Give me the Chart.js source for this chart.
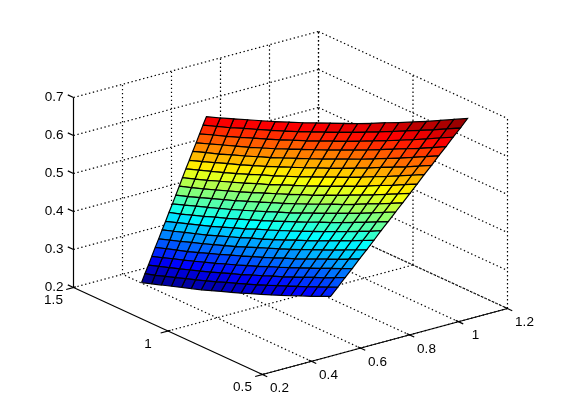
<!DOCTYPE html>
<html lang="en">
<head>
<meta charset="UTF-8">
<title>Surface plot</title>
<script src="https://cdn.jsdelivr.net/npm/chart.js"></script>
<style>
  html, body { margin: 0; padding: 0; background: #fff; }
  canvas { display: block; }
</style>
</head>
<body>
<canvas id="surface" width="561" height="420"></canvas>
<script>
// axis ticks
const xTicks = [0.2, 0.4, 0.6, 0.8, 1, 1.2];
const yTicks = [0.5, 1, 1.5];
const zTicks = [0.2, 0.3, 0.4, 0.5, 0.6, 0.7];
const xTickLabels = ['0.2', '0.4', '0.6', '0.8', '1', '1.2'];
const yTickLabels = ['0.5', '1', '1.5'];
const zTickLabels = ['0.2', '0.3', '0.4', '0.5', '0.6', '0.7'];

// surface nodes. y only changes per column
const yNodes = [1.240, 1.206, 1.173, 1.139, 1.105, 1.072, 1.038, 1.004, 0.971, 0.937, 0.903, 0.869, 0.836, 0.802, 0.768, 0.735, 0.701, 0.667, 0.634, 0.600];
const xNodes = [
  [.277,.292,.306,.321,.336,.350,.365,.379,.394,.409,.423,.438,.453,.467,.482,.496,.511,.526,.540,.555],
  [.291,.306,.322,.337,.353,.368,.384,.399,.415,.430,.445,.461,.476,.492,.507,.523,.538,.554,.569,.584],
  [.305,.321,.338,.354,.370,.386,.403,.419,.435,.451,.468,.484,.500,.516,.533,.549,.565,.581,.598,.614],
  [.319,.336,.353,.370,.387,.404,.421,.438,.455,.473,.490,.507,.524,.541,.558,.575,.592,.609,.626,.643],
  [.333,.351,.369,.386,.404,.422,.440,.458,.476,.494,.512,.530,.547,.565,.583,.601,.619,.637,.655,.673],
  [.347,.366,.384,.403,.422,.440,.459,.478,.496,.515,.534,.552,.571,.590,.609,.627,.646,.665,.683,.702],
  [.361,.380,.400,.419,.439,.458,.478,.497,.517,.536,.556,.575,.595,.614,.634,.653,.673,.692,.712,.732],
  [.375,.395,.415,.436,.456,.476,.497,.517,.537,.558,.578,.598,.619,.639,.659,.680,.700,.720,.741,.761],
  [.389,.410,.431,.452,.473,.494,.516,.537,.558,.579,.600,.621,.642,.664,.685,.706,.727,.748,.769,.790],
  [.403,.425,.447,.468,.490,.512,.534,.556,.578,.600,.622,.644,.666,.688,.710,.732,.754,.776,.798,.820],
  [.417,.439,.462,.485,.508,.530,.553,.576,.599,.621,.644,.667,.690,.713,.735,.758,.781,.804,.826,.849],
  [.431,.454,.478,.501,.525,.548,.572,.596,.619,.643,.666,.690,.714,.737,.761,.784,.808,.832,.855,.879],
  [.444,.469,.493,.518,.542,.566,.591,.615,.640,.664,.688,.713,.737,.762,.786,.810,.835,.859,.884,.908],
  [.458,.484,.509,.534,.559,.584,.610,.635,.660,.685,.711,.736,.761,.786,.811,.837,.862,.887,.912,.937],
  [.472,.498,.524,.550,.576,.602,.628,.654,.681,.707,.733,.759,.785,.811,.837,.863,.889,.915,.941,.967],
  [.486,.513,.540,.567,.594,.621,.647,.674,.701,.728,.755,.782,.808,.835,.862,.889,.916,.943,.970,.996],
  [.500,.528,.556,.583,.611,.638,.666,.694,.721,.749,.777,.804,.832,.860,.887,.915,.943,.970,.998,1.026],
  [.514,.543,.571,.600,.628,.657,.685,.713,.742,.770,.799,.827,.856,.884,.913,.941,.970,.998,1.027,1.055],
  [.528,.557,.587,.616,.645,.675,.704,.733,.762,.792,.821,.850,.880,.909,.938,.967,.997,1.026,1.055,1.085],
  [.542,.572,.602,.632,.662,.693,.723,.753,.783,.813,.843,.873,.903,.933,.963,.994,1.024,1.054,1.084,1.114]
];
const zNodes = [
  [.259,.261,.263,.265,.267,.269,.271,.274,.277,.280,.283,.287,.290,.294,.298,.302,.307,.311,.316,.321],
  [.280,.281,.283,.285,.287,.289,.291,.294,.297,.300,.303,.306,.310,.314,.318,.322,.326,.331,.335,.340],
  [.300,.302,.303,.305,.307,.309,.311,.314,.317,.319,.323,.326,.330,.333,.337,.341,.346,.350,.355,.360],
  [.321,.322,.324,.325,.327,.329,.331,.334,.336,.339,.342,.346,.349,.353,.357,.361,.365,.370,.374,.379],
  [.342,.343,.344,.345,.347,.349,.351,.354,.356,.359,.362,.365,.369,.372,.376,.380,.385,.389,.394,.399],
  [.362,.363,.364,.366,.367,.369,.371,.373,.376,.379,.382,.385,.388,.392,.396,.400,.404,.409,.413,.418],
  [.383,.384,.385,.386,.387,.389,.391,.393,.396,.398,.401,.404,.408,.411,.415,.419,.424,.428,.433,.438],
  [.403,.404,.405,.406,.407,.409,.411,.413,.416,.418,.421,.424,.427,.431,.435,.439,.443,.448,.452,.458],
  [.424,.424,.425,.426,.428,.429,.431,.433,.435,.438,.441,.444,.447,.451,.454,.458,.463,.467,.472,.477],
  [.444,.445,.446,.447,.448,.449,.451,.453,.455,.458,.460,.463,.467,.470,.474,.478,.482,.487,.492,.497],
  [.465,.465,.466,.467,.468,.469,.471,.473,.475,.477,.480,.483,.486,.490,.493,.497,.502,.506,.511,.516],
  [.486,.486,.486,.487,.488,.489,.491,.493,.495,.497,.500,.502,.506,.509,.513,.517,.521,.526,.531,.536],
  [.506,.506,.506,.507,.508,.509,.511,.512,.515,.517,.519,.522,.525,.529,.532,.536,.541,.545,.550,.555],
  [.527,.527,.527,.527,.528,.529,.531,.532,.534,.536,.539,.542,.545,.548,.552,.556,.560,.565,.570,.575],
  [.547,.547,.547,.548,.548,.549,.550,.552,.554,.556,.559,.561,.564,.568,.571,.576,.580,.584,.589,.594],
  [.568,.568,.567,.568,.568,.569,.570,.572,.574,.576,.578,.581,.584,.587,.591,.595,.599,.604,.609,.614],
  [.588,.588,.588,.588,.588,.589,.590,.592,.594,.596,.598,.601,.604,.607,.611,.615,.619,.623,.628,.633],
  [.609,.609,.608,.608,.609,.609,.610,.612,.613,.615,.618,.620,.623,.627,.630,.634,.638,.643,.648,.653],
  [.630,.629,.628,.629,.629,.629,.630,.631,.633,.635,.637,.640,.643,.646,.650,.654,.658,.662,.667,.672],
  [.650,.649,.649,.649,.649,.649,.650,.651,.653,.655,.657,.659,.662,.666,.669,.673,.677,.682,.687,.692]
];

// orthographic view of the 3d box onto the chart's flat x/y scales
function project(x, y, z) {
  return {
    x: 262 + 245 * (x - 0.2) - 189 * (y - 0.5),
    y: 374 - 66 * (x - 0.2) - 87 * (y - 0.5) - 380 * (z - 0.2)
  };
}

// matlab jet, 64 steps
function jet(t) {
  const k = Math.min(63, Math.max(0, Math.floor(t * 64)));
  const s = (k + 0.25) / 64;
  const c = v => Math.round(255 * Math.min(1, Math.max(0, v)));
  const r = c(Math.min(4 * s - 1.5, -4 * s + 4.5));
  const g = c(Math.min(4 * s - 0.5, -4 * s + 3.5));
  const b = c(Math.min(4 * s + 0.5, -4 * s + 2.5));
  return `rgb(${r},${g},${b})`;
}

const xMin = xTicks[0], xMax = xTicks[xTicks.length - 1];
const yMin = yTicks[0], yMax = yTicks[yTicks.length - 1];
const zMin = zTicks[0], zMax = zTicks[zTicks.length - 1];

const datasets = [];

function addLine(a, b, dotted) {
  datasets.push({
    data: [project(...a), project(...b)],
    showLine: true,
    borderColor: '#000',
    borderWidth: dotted ? 1.2 : 1.2,
    borderDash: dotted ? [1.4, 2.6] : [],
    pointRadius: 0,
    fill: false,
    order: dotted ? 3 : 1
  });
}

// dotted grid on floor and back walls
xTicks.forEach(x => {
  if (x !== xMin) addLine([x, yMin, zMin], [x, yMax, zMin], true);
  if (x !== xMin) addLine([x, yMax, zMin], [x, yMax, zMax], true);
});
yTicks.forEach(y => {
  if (y !== yMax) addLine([xMin, y, zMin], [xMax, y, zMin], true);
  addLine([xMax, y, zMin], [xMax, y, zMax], true);
});
zTicks.forEach(z => {
  addLine([xMin, yMax, z], [xMax, yMax, z], true);
  addLine([xMax, yMax, z], [xMax, yMin, z], true);
});

// solid axes
addLine([xMin, yMin, zMin], [xMax, yMin, zMin]);
addLine([xMin, yMin, zMin], [xMin, yMax, zMin]);
addLine([xMin, yMax, zMin], [xMin, yMax, zMax]);

// tick marks
xTicks.forEach(x => addLine([x, yMin - 0.025, zMin], [x, yMin + 0.015, zMin]));
yTicks.forEach(y => addLine([xMin - 0.03, y, zMin], [xMin + 0.01, y, zMin]));
zTicks.forEach(z => addLine([xMin, yMax, z], [xMin, yMax + 0.03, z]));

// surface cells
const zLow = zNodes[0][0];
const zHigh = zNodes[zNodes.length - 1][yNodes.length - 1];
for (let i = 0; i < zNodes.length - 1; i++) {
  for (let j = 0; j < yNodes.length - 1; j++) {
    const corners = [[i, j], [i, j + 1], [i + 1, j + 1], [i + 1, j], [i, j]];
    const zMean = (zNodes[i][j] + zNodes[i][j + 1] + zNodes[i + 1][j] + zNodes[i + 1][j + 1]) / 4;
    datasets.push({
      data: corners.map(([r, c]) => project(xNodes[r][c], yNodes[c], zNodes[r][c])),
      showLine: true,
      fill: 'shape',
      backgroundColor: jet((zMean - zLow) / (zHigh - zLow)),
      borderColor: '#000',
      borderWidth: 1.2,
      pointRadius: 0,
      order: 2
    });
  }
}

// tick labels, offsets in pixels from the tick
const tickText = {
  id: 'tickText',
  afterDatasetsDraw(chart) {
    const { ctx, scales } = chart;
    const put = (p, label, dx, dy, align) => {
      ctx.textAlign = align;
      ctx.fillText(label, scales.x.getPixelForValue(p.x) + dx, scales.y.getPixelForValue(p.y) + dy);
    };
    ctx.save();
    ctx.font = '13.5px "Liberation Sans", Arial, sans-serif';
    ctx.fillStyle = '#000';
    ctx.textBaseline = 'middle';
    xTicks.forEach((x, i) => put(project(x, yMin, zMin), xTickLabels[i], 17, 14, 'center'));
    yTicks.forEach((y, i) => put(project(xMin, y, zMin), yTickLabels[i], -20, 13, 'center'));
    zTicks.forEach((z, i) => put(project(xMin, yMax, z), zTickLabels[i], -10, 0, 'right'));
    ctx.restore();
  }
};

new Chart(document.getElementById('surface'), {
  type: 'scatter',
  data: { datasets },
  plugins: [tickText],
  options: {
    responsive: false,
    animation: false,
    events: [],
    layout: { padding: 0 },
    plugins: { legend: { display: false }, tooltip: { enabled: false } },
    scales: {
      x: { type: 'linear', display: false, min: -0.5, max: 560.5 },
      y: { type: 'linear', display: false, min: -0.5, max: 419.5, reverse: true }
    }
  }
});
</script>
</body>
</html>
